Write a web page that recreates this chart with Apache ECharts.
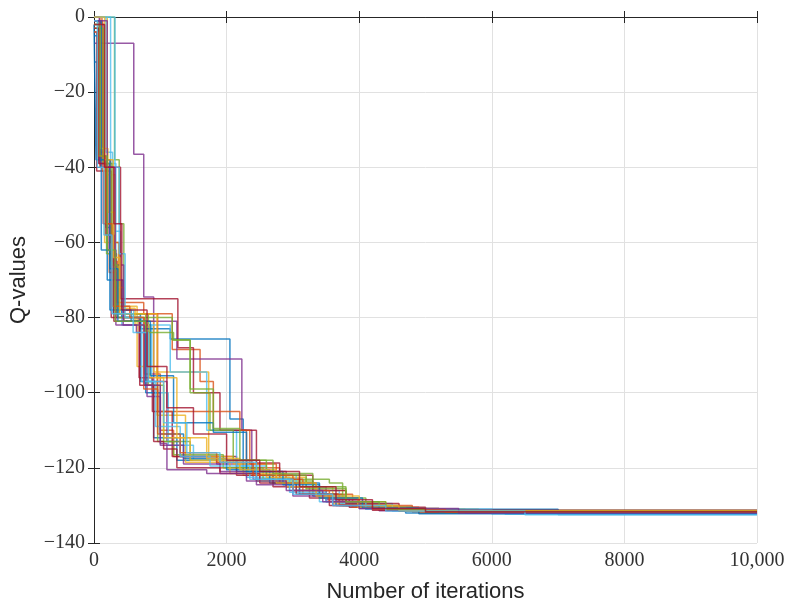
<!DOCTYPE html>
<html>
<head>
<meta charset="utf-8">
<script src="https://cdn.jsdelivr.net/npm/echarts@6/dist/echarts.min.js"></script>
<style>
  html, body { margin: 0; padding: 0; background: #fff; }
  #chart { width: 794px; height: 610px; }
</style>
</head>
<body>
<div id="chart"></div>
<script>
// x tick values (iterations) and y tick values (Q-values)
var xTicks = [0, 2000, 4000, 6000, 8000, 10000];
var yTicks = [0, -20, -40, -60, -80, -100, -120, -140];

// each run: [iteration, Q-value] step points (stairs, value held until next point)
var run01 = [[0,-12],[50,-37],[180,-56],[290,-79],[700,-97],[900,-112],[1250,-118],[2150,-121],[2700,-124],[3300,-127.5],[3800,-130],[4600,-131.5],[6500,-132],[10000,-132]];
var run02 = [[0,0],[90,-40],[230,-68],[330,-80],[760,-95],[1000,-110],[1200,-117],[1900,-120],[2500,-123],[3100,-127],[3700,-130],[4800,-131.7],[10000,-131.7]];
var run03 = [[0,-3],[70,-36],[160,-60],[370,-77],[650,-93],[950,-106],[1380,-118.5],[2250,-122],[2900,-125],[3600,-129.5],[4200,-131],[5600,-131.8],[10000,-131.8]];
var run04 = [[0,-7],[600,-36.5],[750,-74.5],[900,-97],[1100,-113],[1300,-117],[1850,-119],[2400,-123],[3000,-126],[3500,-129],[4100,-131],[5500,-131.6],[10000,-131.6]];
var run05 = [[0,0],[310,-38],[380,-55],[450,-79],[820,-98],[1050,-113],[1450,-118],[2450,-123.5],[3300,-127],[3750,-130],[4500,-131.3],[10000,-131.3]];
var run06 = [[0,0],[250,-39],[330,-70],[420,-82],[870,-100],[1120,-114],[1500,-118],[2300,-122.5],[2950,-126],[3400,-129],[4300,-131.2],[6000,-132.2],[10000,-132.2]];
var run07 = [[0,-4],[40,-41],[140,-55],[260,-80],[680,-96],[880,-105],[1180,-117],[2150,-122],[2700,-125],[3250,-128],[3850,-130.5],[5000,-131.8],[10000,-131.8]];
var run08 = [[0,-5],[80,-38],[200,-70],[420,-80],[700,-83],[1150,-85.7],[2050,-107],[2250,-121],[2800,-124],[3400,-128],[4000,-130.5],[4700,-132],[10000,-132]];
var run09 = [[0,0],[120,-38],[250,-60],[380,-79],[1180,-88.5],[1600,-97],[1800,-110],[2300,-120],[2800,-124],[3350,-127],[3900,-130.5],[4900,-132],[10000,-132]];
var run10 = [[0,0],[200,-42],[320,-72],[450,-81],[900,-94.5],[1730,-117],[2100,-119],[2600,-122.5],[3200,-126],[3800,-129],[4400,-131],[5800,-131.9],[10000,-131.9]];
var run11 = [[0,-2],[150,-40],[300,-66],[450,-81],[1250,-91],[2230,-110],[2380,-121],[2900,-125],[3500,-128.5],[4000,-130.8],[5200,-131.8],[10000,-131.8]];
var run12 = [[0,-1],[60,-38],[190,-63],[340,-79],[780,-98],[960,-113],[1200,-116.5],[1950,-120],[2550,-123],[3550,-124],[3750,-128],[4100,-130.5],[4800,-131.4],[10000,-131.4]];
var run13 = [[0,0],[180,-36],[280,-57],[400,-78],[600,-82],[1150,-94.5],[1700,-110],[2150,-119.5],[2600,-122],[3050,-126],[3700,-129.5],[4500,-131.5],[6200,-132.3],[10000,-132.3]];
var run14 = [[0,-1],[100,-40],[400,-75],[1265,-88],[1500,-100],[1900,-110],[2450,-118.7],[2800,-122],[3300,-126],[3800,-129.5],[4600,-131.5],[10000,-131.5]];
var run15 = [[0,-2],[30,-38],[110,-62],[240,-78],[560,-81],[780,-100],[1000,-111],[1350,-117.5],[2000,-120.5],[2650,-124],[3100,-127],[3650,-130],[4200,-131],[7000,-132.4],[10000,-132.4]];
var run16 = [[0,-1],[130,-41],[260,-65],[350,-76],[750,-79],[960,-105],[2200,-110],[2350,-119],[2750,-123],[3150,-127],[3700,-129.8],[4400,-131.2],[5400,-131.9],[10000,-131.9]];
var run17 = [[0,-2],[100,-35],[210,-52],[310,-77.5],[620,-82],[840,-96],[1050,-112],[1450,-118],[2050,-121.5],[2900,-125],[3400,-128],[3980,-130.5],[4700,-131.5],[10000,-131.5]];
var run18 = [[0,0],[80,-39],[230,-62],[330,-82],[640,-84],[800,-101],[1000,-114],[1350,-119],[1900,-121],[2450,-124.5],[3000,-127.5],[3600,-130],[4300,-131.4],[5600,-132.1],[10000,-132.1]];
var run19 = [[0,-3],[140,-39],[270,-66],[360,-80],[1180,-86],[1450,-100],[1750,-110],[2100,-118],[2600,-122],[3200,-125.5],[3800,-129],[4300,-130.8],[5200,-131.7],[10000,-131.7]];
var run20 = [[0,0],[316,-40],[380,-63],[470,-80],[720,-97],[930,-109],[1300,-117],[1750,-119.5],[2350,-123],[2950,-126.5],[3500,-129],[4100,-131],[6000,-132],[10000,-132]];
var run21 = [[0,-3],[70,-39],[180,-58],[300,-81],[690,-98],[900,-113],[1050,-115],[1250,-120],[1900,-121.5],[2500,-124],[3050,-127],[3550,-130],[4200,-131.3],[10000,-131.3]];
var run22 = [[0,-1],[110,-38],[240,-67],[360,-81],[850,-95.5],[1200,-108],[1800,-110.5],[2300,-121],[2850,-124.5],[3400,-128],[4050,-130.7],[4900,-132.2],[10000,-132.2]];
var run23 = [[0,-4],[60,-37],[170,-55],[280,-77],[540,-80],[750,-99],[960,-111],[1300,-116],[1850,-118.5],[2400,-122],[3000,-126],[3550,-129],[4200,-131],[5300,-131.8],[10000,-131.8]];
var run24 = [[0,0],[160,-38],[290,-64],[390,-79],[950,-96],[1250,-112],[1700,-117.5],[2200,-120.5],[2750,-124],[3350,-127.5],[4000,-130],[4600,-131.4],[10000,-131.4]];
var run25 = [[0,-1],[200,-40],[320,-70],[440,-82],[760,-98],[1000,-113.5],[1100,-120.5],[1700,-121.5],[2300,-123.5],[2900,-126],[3450,-129],[4000,-130.8],[5500,-132],[10000,-132]];
var run26 = [[0,-2],[90,-37],[200,-62],[320,-81],[780,-84],[1200,-86],[1450,-99],[1800,-109.5],[2200,-118],[2700,-121.5],[3300,-125],[3800,-129],[4400,-131],[5000,-131.6],[10000,-131.6]];
var run27 = [[0,-1],[50,-40],[150,-58],[270,-79],[590,-84],[820,-97],[1050,-108],[1400,-116],[1900,-118.5],[2450,-123],[3000,-127],[3600,-130],[4400,-131.5],[6500,-132.5],[10000,-132.5]];
var run28 = [[0,-2],[160,-40],[300,-55],[420,-78],[800,-93],[1100,-104],[1500,-111],[2000,-118],[2500,-121],[3100,-125],[3650,-128.5],[4200,-130.8],[5000,-131.7],[10000,-131.7]];

var runs = [run01, run02, run03, run04, run05, run06, run07, run08, run09, run10,
            run11, run12, run13, run14, run15, run16, run17, run18, run19, run20,
            run21, run22, run23, run24, run25, run26, run27, run28];

// matlab default line colours
var colors = ['#0072BD', '#D95319', '#EDB120', '#7E2F8E', '#77AC30', '#4DBEEE', '#A2142F'];

var myChart = echarts.init(document.getElementById('chart'));
var tickFont = 'Liberation Serif';
var minus = function (v) { return String(v).replace('-', '\u2212'); };

var series = runs.map(function (r, i) {
  return {
    name: 'run ' + (i + 1),
    type: 'line',
    step: 'end',
    showSymbol: false,
    data: r,
    xAxisIndex: 0,
    yAxisIndex: 0,
    lineStyle: { width: 1.5, opacity: 0.8 }
  };
});

var option = {
  animation: false,
  color: colors,
  grid: { left: 93, right: 37, top: 17, bottom: 67 },
  xAxis: [
    {
      type: 'value',
      min: xTicks[0],
      max: xTicks[xTicks.length - 1],
      interval: 2000,
      name: 'Number of iterations',
      nameLocation: 'middle',
      nameGap: 38,
      nameTextStyle: { fontFamily: 'Liberation Sans', fontSize: 22, color: '#262626' },
      axisLine: { lineStyle: { color: '#262626', width: 1 } },
      axisTick: { inside: true, length: 6, lineStyle: { color: '#262626' } },
      axisLabel: {
        margin: 8,
        fontFamily: tickFont,
        fontSize: 20,
        color: '#333',
        formatter: function (v) { return v === 10000 ? '10,000' : String(v); }
      },
      splitLine: { lineStyle: { color: '#e1e1e1' } }
    },
    {
      type: 'value', position: 'top',
      min: xTicks[0], max: xTicks[xTicks.length - 1], interval: 2000,
      axisLine: { lineStyle: { color: '#262626' } },
      axisTick: { inside: true, length: 6, lineStyle: { color: '#262626' } },
      axisLabel: { show: false },
      splitLine: { show: false }
    }
  ],
  yAxis: [
    {
      type: 'value',
      min: yTicks[yTicks.length - 1],
      max: yTicks[0],
      interval: 20,
      name: 'Q-values',
      nameLocation: 'middle',
      nameGap: 64,
      nameTextStyle: { fontFamily: 'Liberation Sans', fontSize: 22, color: '#262626' },
      axisLine: { show: true, lineStyle: { color: '#262626', width: 1 } },
      axisTick: { show: true, inside: true, length: 6, lineStyle: { color: '#262626' } },
      axisLabel: { margin: 9, fontFamily: tickFont, fontSize: 20, color: '#333', formatter: minus },
      splitLine: { lineStyle: { color: '#e1e1e1' } }
    },
    {
      type: 'value', position: 'right',
      min: yTicks[yTicks.length - 1], max: yTicks[0], interval: 20,
      axisLine: { show: true, lineStyle: { color: '#262626' } },
      axisTick: { show: true, inside: true, length: 6, lineStyle: { color: '#262626' } },
      axisLabel: { show: false },
      splitLine: { show: false }
    }
  ],
  series: series
};

option && myChart.setOption(option);
</script>
</body>
</html>
